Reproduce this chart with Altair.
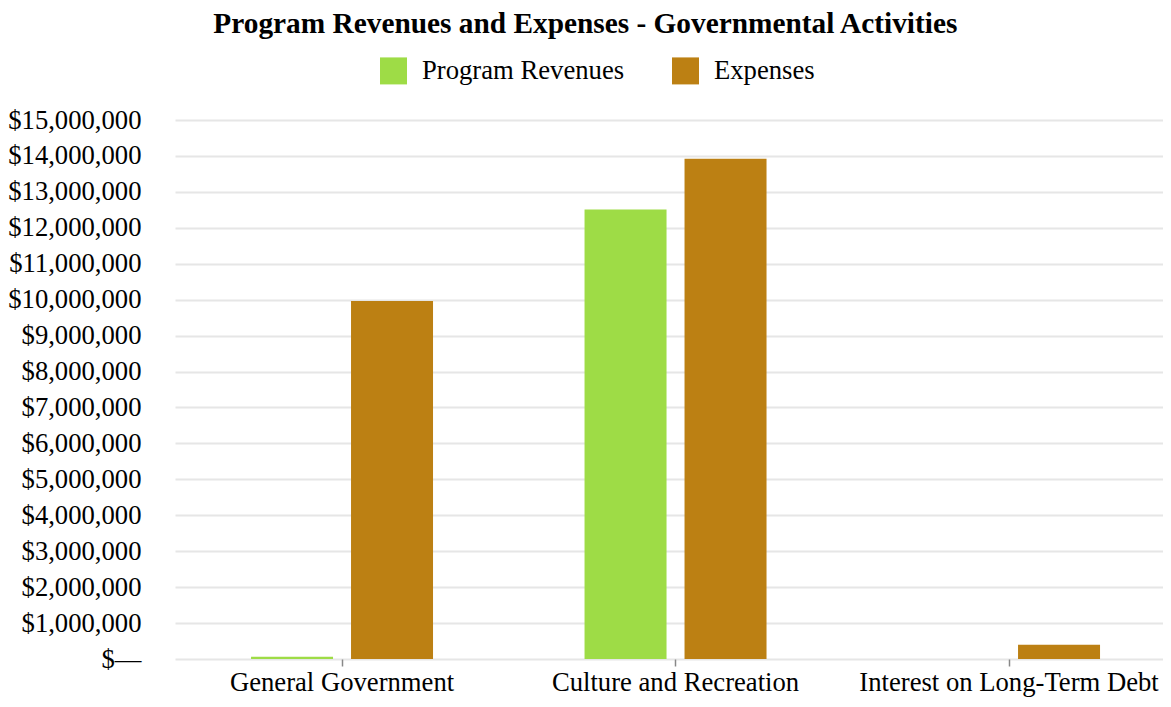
import altair as alt
import pandas as pd

categories = ["General Government", "Culture and Recreation", "Interest on Long-Term Debt"]
series = ["Program Revenues", "Expenses"]
program_revenues = [60000, 12510000, 0]
expenses = [9960000, 13920000, 400000]
y_ticks = list(range(0, 15000001, 1000000))

rows = []
for c, r, e in zip(categories, program_revenues, expenses):
    rows.append({"category": c, "series": series[0], "value": r})
    rows.append({"category": c, "series": series[1], "value": e})
df = pd.DataFrame(rows)

FONT = "Liberation Serif"
FS = 26.67

chart = alt.Chart(df).mark_bar().encode(
    x=alt.X("category:N", sort=categories, title=None,
            scale=alt.Scale(paddingInner=0.4543, paddingOuter=0.2084, align=0.547),
            axis=alt.Axis(labelAngle=0, domain=False, tickColor="#888888", tickSize=7,
                          tickWidth=1.5, labelPadding=3, labelFontSize=FS, labelFont=FONT,
                          labelColor="#000000", grid=False, labelLimit=0)),
    xOffset=alt.XOffset("series:N", sort=series, scale=alt.Scale(paddingInner=0.18, paddingOuter=0)),
    y=alt.Y("value:Q", title=None,
            scale=alt.Scale(domain=[0, 15000000], nice=False),
            axis=alt.Axis(values=y_ticks, ticks=False, domain=False, labelPadding=34,
                          labelFontSize=FS, labelFont=FONT, labelColor="#000000",
                          gridColor="#e6e6e6", gridWidth=2,
                          labelExpr="datum.value == 0 ? '$\u2014' : '$' + format(datum.value, ',.0f')")),
    color=alt.Color("series:N", sort=series,
                    scale=alt.Scale(domain=series, range=["#9edc46", "#bc8013"]),
                    legend=alt.Legend(title=None, orient="none", direction="horizontal",
                                      legendX=205, legendY=-63, symbolType="square",
                                      symbolSize=729, symbolStrokeWidth=0, symbolOpacity=1,
                                      labelFontSize=FS, labelFont=FONT, labelColor="#000000",
                                      labelOffset=15, columnPadding=47, padding=0, labelLimit=0)),
).properties(
    width=988,
    height=539,
    padding={"left": 167, "top": 112, "right": 0, "bottom": 40},
    autosize=alt.AutoSizeParams(type="none"),
    title=alt.TitleParams("Program Revenues and Expenses - Governmental Activities",
                          font=FONT, fontSize=29.33, fontWeight="bold", color="#000000",
                          anchor="middle", frame="bounds", dy=-14),
).configure_view(stroke=None)

chart.save("out.html", embed_options={"renderer": "svg", "actions": False})
